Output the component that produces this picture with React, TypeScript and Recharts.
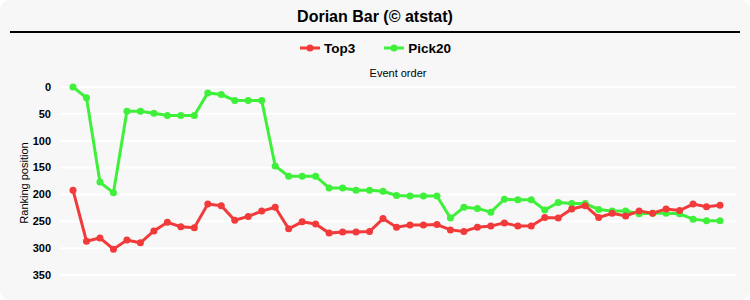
import React from 'react';
import { LineChart, Line, XAxis, YAxis, CartesianGrid } from 'recharts';

const events: number[] = Array.from({ length: 49 }, (_, i) => i + 1);

const top3: number[] = [
  192, 287, 281, 302, 285, 290, 268, 252, 260, 262,
  218, 221, 248, 241, 231, 224, 264, 251, 255, 272,
  270, 270, 269, 245, 261, 257, 257, 256, 266, 269,
  261, 259, 253, 259, 259, 243, 244, 227, 221, 243,
  235, 240, 231, 235, 227, 230, 218, 223, 220,
];

const pick20: number[] = [
  0, 20, 177, 197, 45, 45, 49, 53, 53, 53,
  11, 14, 25, 25, 25, 147, 166, 166, 166, 188,
  188, 192, 192, 194, 202, 203, 203, 203, 244, 224,
  226, 233, 209, 210, 210, 229, 215, 217, 217, 228,
  231, 231, 236, 235, 235, 236, 246, 249, 249,
];

const yTicks: number[] = [0, 50, 100, 150, 200, 250, 300, 350];

const RED = '#f23a3a';
const GREEN = '#3ff03a';

const data = events.map((e, i) => ({ event: e, top3: top3[i], pick20: pick20[i] }));

const font = '"Liberation Sans", Arial, sans-serif';

const LegendItem = ({ color, label }: { color: string; label: string }) => (
  <div style={{ display: 'flex', alignItems: 'center', marginRight: 28 }}>
    <svg width={22} height={10} style={{ marginRight: 3 }}>
      <line x1={1} y1={5} x2={21} y2={5} stroke={color} strokeWidth={3} />
      <circle cx={11} cy={5} r={3.5} fill={color} />
    </svg>
    <span style={{ fontWeight: 'bold', fontSize: 13.5, color: '#000' }}>{label}</span>
  </div>
);

export default function App() {
  return (
    <div
      style={{
        position: 'absolute',
        left: 0,
        top: 0,
        width: 750,
        height: 300,
        background: '#f7f7f7',
        borderRadius: 10,
        fontFamily: font,
        overflow: 'hidden',
      }}
    >
      <div
        style={{
          position: 'absolute',
          left: 0,
          top: 7,
          width: 750,
          textAlign: 'center',
          fontWeight: 'bold',
          fontSize: 16,
          lineHeight: '20px',
          color: '#000',
        }}
      >
        Dorian Bar (© atstat)
      </div>
      <div style={{ position: 'absolute', left: 10, top: 31, width: 730, height: 2, background: '#000' }} />
      <div
        style={{
          position: 'absolute',
          left: 0,
          top: 39,
          width: 750,
          height: 18,
          display: 'flex',
          justifyContent: 'center',
          paddingLeft: 28,
          boxSizing: 'border-box',
        }}
      >
        <LegendItem color={RED} label="Top3" />
        <LegendItem color={GREEN} label="Pick20" />
      </div>
      <div
        style={{
          position: 'absolute',
          left: 60,
          top: 66,
          width: 676,
          textAlign: 'center',
          fontSize: 11,
          lineHeight: '14px',
          color: '#000',
        }}
      >
        Event order
      </div>
      <div
        style={{
          position: 'absolute',
          left: 24 - 60,
          top: 183 - 7,
          width: 120,
          textAlign: 'center',
          fontSize: 11,
          lineHeight: '14px',
          color: '#000',
          transform: 'rotate(-90deg)',
        }}
      >
        Ranking position
      </div>
      <div style={{ position: 'absolute', left: 0, top: 0 }}>
        <LineChart width={750} height={300} data={data} margin={{ top: 87, right: 14, bottom: 25, left: 0 }}>
          <CartesianGrid horizontal vertical={false} stroke="#ffffff" strokeWidth={2} />
          <XAxis dataKey="event" type="number" domain={[1, 49]} padding={{ left: 13, right: 16 }} hide />
          <YAxis
            reversed
            domain={[0, 350]}
            ticks={yTicks}
            width={60}
            axisLine={false}
            tickLine={false}
            tickSize={0}
            tickMargin={9}
            tick={{ fontSize: 11, fontWeight: 'bold', fill: '#000', fontFamily: font }}
          />
          <Line
            type="linear"
            dataKey="pick20"
            stroke={GREEN}
            strokeWidth={3}
            dot={{ r: 3.5, fill: GREEN, stroke: GREEN, strokeWidth: 0 }}
            isAnimationActive={false}
          />
          <Line
            type="linear"
            dataKey="top3"
            stroke={RED}
            strokeWidth={3}
            dot={{ r: 3.5, fill: RED, stroke: RED, strokeWidth: 0 }}
            isAnimationActive={false}
          />
        </LineChart>
      </div>
    </div>
  );
}
